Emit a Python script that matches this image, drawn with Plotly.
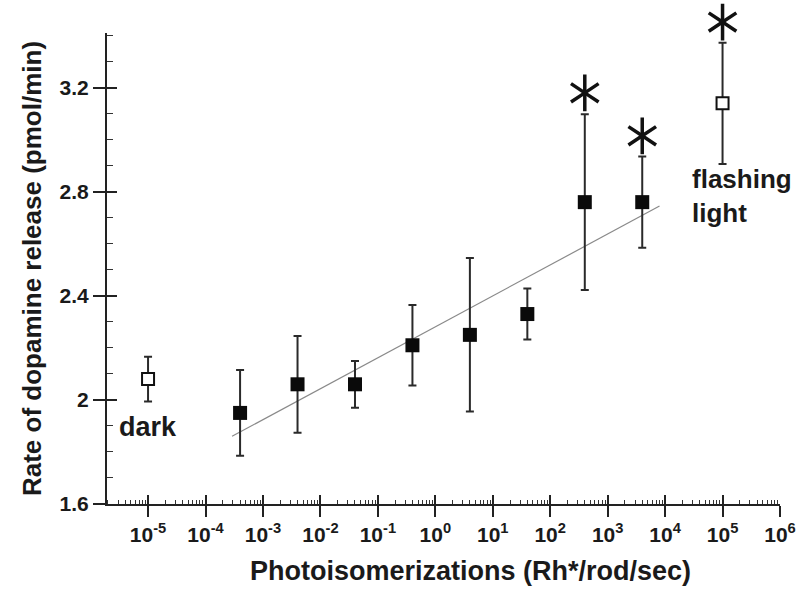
import numpy as np
import plotly.graph_objects as go

# ---- data ----
x_filled = [4e-4, 4e-3, 4e-2, 4e-1, 4, 40, 400, 4000]
y_filled = [1.95, 2.06, 2.06, 2.21, 2.25, 2.33, 2.76, 2.76]
err_filled = [0.165, 0.186, 0.09, 0.155, 0.295, 0.098, 0.338, 0.175]

x_open = [1e-5, 1e5]
y_open = [2.08, 3.14]
err_open = [0.086, 0.233]

fit_x = [2.9e-4, 8.0e3]
fit_y = [1.86, 2.745]

star_x = [400, 4000, 1e5]
star_y = [3.18, 3.015, 3.452]

x_exponents = list(range(-5, 7))
y_tick_vals = [1.6, 2.0, 2.4, 2.8, 3.2]
y_tick_text = ["1.6", "2", "2.4", "2.8", "3.2"]
y_minor_vals = [1.7, 1.8, 1.9, 2.1, 2.2, 2.3, 2.5, 2.6, 2.7, 2.9, 3.0, 3.1, 3.3, 3.4]

x_title = "Photoisomerizations (Rh*/rod/sec)"
y_title = "Rate of dopamine release (pmol/min)"

FONT = "Liberation Sans, Arial, sans-serif"
INK = "#1a1a1a"

x_major = [10.0 ** e for e in x_exponents]
x_text = [f"10<sup>{e}</sup>" for e in x_exponents]
x_minor = [m * 10.0 ** e for e in range(-6, 6) for m in range(2, 10)]
x_range = [np.log10(1.93e-6), 6]
y_range = [1.6, 3.41]

# plot area: full height 504 px (top margin 0); the data axis uses the lower 471 px,
# the asterisk layer uses the full height with the same scale so the top star is not clipped
H_FULL, H_DATA = 504.0, 471.0
y_dom_top = H_DATA / H_FULL
y3_range = [y_range[0], y_range[0] + (y_range[1] - y_range[0]) * H_FULL / H_DATA]

fig = go.Figure()

fig.add_trace(go.Scatter(x=fit_x, y=fit_y, mode="lines",
                         line=dict(color="#8a8a8a", width=1.2),
                         hoverinfo="skip", showlegend=False))

fig.add_trace(go.Scatter(x=x_filled, y=y_filled, mode="markers",
                         marker=dict(symbol="square", size=14, color="#0a0a0a",
                                     line=dict(width=0)),
                         error_y=dict(type="data", array=err_filled, visible=True,
                                      thickness=2, width=4, color="#2a2a2a"),
                         showlegend=False))

fig.add_trace(go.Scatter(x=x_open, y=y_open, mode="markers",
                         marker=dict(symbol="square", size=12, color="white",
                                     line=dict(width=2, color="#111111")),
                         error_y=dict(type="data", array=err_open, visible=True,
                                      thickness=2, width=4, color="#2a2a2a"),
                         showlegend=False))

for sym in ["y-up-open", "y-down-open"]:
    fig.add_trace(go.Scatter(x=star_x, y=star_y, mode="markers", yaxis="y3",
                             marker=dict(symbol=sym, size=23, color="#111111",
                                         line=dict(width=3.5, color="#111111")),
                             hoverinfo="skip", showlegend=False))

# dummy trace for the overlay axes (inside half of crossing ticks)
fig.add_trace(go.Scatter(x=[None], y=[None], xaxis="x2", yaxis="y2",
                         hoverinfo="skip", showlegend=False))

fig.update_layout(
    template="none",
    width=801, height=593,
    margin=dict(l=107, r=21, t=0, b=89),
    plot_bgcolor="rgba(0,0,0,0)", paper_bgcolor="white",
    showlegend=False,
    font=dict(family=FONT, color=INK),
    xaxis=dict(type="log", range=x_range, tickmode="array", tickvals=x_major,
               ticktext=x_text, ticks="outside", ticklen=11, tickwidth=1.5,
               tickcolor="#222222", showline=True, linewidth=2, linecolor="#222222",
               showgrid=False, zeroline=False, automargin=False, anchor="y",
               tickfont=dict(size=21, color=INK, family=FONT, weight="bold"),
               minor=dict(tickmode="array", tickvals=x_minor, ticks="inside",
                          ticklen=4, tickwidth=1, tickcolor="#333333", showgrid=False)),
    xaxis2=dict(type="log", range=x_range, overlaying="x", anchor="y", side="bottom",
                tickmode="array", tickvals=x_major, ticks="inside", ticklen=9,
                tickwidth=1.5, tickcolor="#222222", showticklabels=False,
                showline=False, showgrid=False, zeroline=False, automargin=False),
    yaxis=dict(range=y_range, domain=[0, y_dom_top], anchor="x",
               tickmode="array", tickvals=y_tick_vals, ticktext=y_tick_text,
               ticks="outside", ticklen=12, tickwidth=1.5, tickcolor="#222222",
               showline=True, linewidth=2, linecolor="#222222",
               showgrid=False, zeroline=False, automargin=False,
               tickfont=dict(size=21, color=INK, family=FONT, weight="bold"),
               minor=dict(tickmode="array", tickvals=y_minor_vals, ticks="inside",
                          ticklen=6, tickwidth=1.2, tickcolor="#333333", showgrid=False),
               title=dict(text=y_title, standoff=10,
                          font=dict(size=26, color=INK, family=FONT, weight="bold"))),
    yaxis2=dict(range=y_range, overlaying="y", anchor="x", side="left",
                tickmode="array", tickvals=y_tick_vals[1:], ticks="inside", ticklen=10,
                tickwidth=1.5, tickcolor="#222222", showticklabels=False,
                showline=False, showgrid=False, zeroline=False, automargin=False),
    yaxis3=dict(range=y3_range, domain=[0, 1], anchor="x", visible=False,
                showgrid=False, zeroline=False, automargin=False),
)

fig.add_annotation(x=-5, y=1.897, xref="x", yref="y", text="dark", showarrow=False,
                   xanchor="center", yanchor="middle",
                   font=dict(size=27, color=INK, family=FONT, weight="bold"))
fig.add_annotation(x=5, y=2.785, xref="x", yref="y", text="flashing<br>light",
                   showarrow=False, xanchor="left", yanchor="middle", align="left",
                   xshift=-33,
                   font=dict(size=26, color=INK, family=FONT, weight="bold"))
fig.add_annotation(x=0.54, y=-67 / H_FULL, xref="paper", yref="paper", text=x_title,
                   showarrow=False, xanchor="center", yanchor="middle",
                   font=dict(size=27, color=INK, family=FONT, weight="bold"))

fig.write_html("out.html")
